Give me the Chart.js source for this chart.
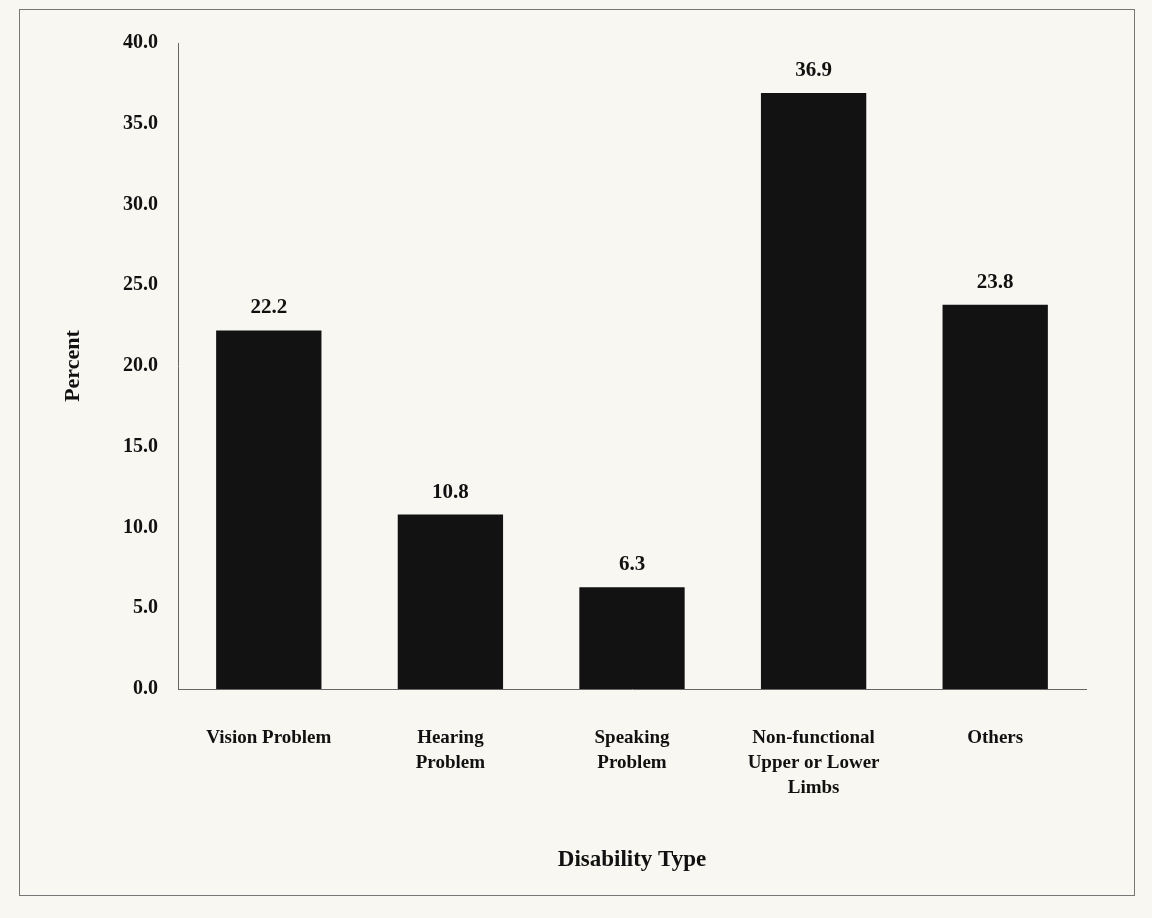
<!DOCTYPE html>
<html>
<head>
<meta charset="utf-8">
<script src="https://cdn.jsdelivr.net/npm/chart.js@4"></script>
<style>
  html, body { margin: 0; padding: 0; background: #f8f7f2; }
  #wrap { position: relative; width: 1152px; height: 918px; }
  #frame { position: absolute; left: 19px; top: 9px; width: 1116px; height: 887px;
           border: 1px solid #777; box-sizing: border-box; }
  canvas { position: absolute; left: 0; top: 0; }
</style>
</head>
<body>
<div id="wrap">
  <div id="frame"></div>
  <canvas id="disabilityChart" width="1152" height="918"></canvas>
</div>
<script>
const categories = [
    "Vision Problem",
    ["Hearing", "Problem"],
    ["Speaking", "Problem"],
    ["Non-functional", "Upper or Lower", "Limbs"],
    "Others"
];
const percentValues = [22.2, 10.8, 6.3, 36.9, 23.8];

const serif = "'Liberation Serif', 'DejaVu Serif', serif";

// draws the value above each bar
const valueLabels = {
    id: "valueLabels",
    afterDatasetsDraw(chart) {
        const ctx = chart.ctx;
        const meta = chart.getDatasetMeta(0);
        ctx.save();
        ctx.font = "bold 21px " + serif;
        ctx.fillStyle = "#111";
        ctx.textAlign = "center";
        ctx.textBaseline = "bottom";
        meta.data.forEach((bar, i) => {
            ctx.fillText(percentValues[i].toFixed(1), bar.x, bar.y - 12);
        });
        ctx.restore();
    }
};

const ctx = document.getElementById("disabilityChart").getContext("2d");
new Chart(ctx, {
    type: "bar",
    data: {
        labels: categories,
        datasets: [{
            data: percentValues,
            backgroundColor: "#121212",
            borderWidth: 0,
            barPercentage: 0.58,
            categoryPercentage: 1.0
        }]
    },
    options: {
        responsive: false,
        animation: false,
        layout: { padding: { top: 43, right: 66, left: 0, bottom: 44 } },
        plugins: {
            legend: { display: false },
            tooltip: { enabled: false }
        },
        scales: {
            x: {
                grid: { display: false },
                border: { display: true, color: "#666", width: 1 },
                ticks: {
                    color: "#111",
                    font: { family: serif, size: 19, weight: "bold", lineHeight: 1.3 },
                    padding: 29,
                    maxRotation: 0,
                    autoSkip: false
                },
                title: {
                    display: true,
                    text: "Disability Type",
                    color: "#111",
                    font: { family: serif, size: 23, weight: "bold" },
                    padding: { top: 0, bottom: 0 }
                },
                afterFit(scale) { scale.height = 185; }
            },
            y: {
                min: 0,
                max: 40,
                grid: { display: false },
                border: { display: true, color: "#666", width: 1 },
                ticks: {
                    stepSize: 5,
                    color: "#111",
                    padding: 12,
                    font: { family: serif, size: 20, weight: "bold" },
                    callback: (v) => v.toFixed(1)
                },
                title: {
                    display: true,
                    text: "Percent",
                    color: "#111",
                    font: { family: serif, size: 22, weight: "bold" },
                    padding: { top: 60, bottom: 0 }
                },
                afterFit(scale) { scale.width = 178; }
            }
        }
    },
    plugins: [valueLabels]
});
</script>
</body>
</html>
